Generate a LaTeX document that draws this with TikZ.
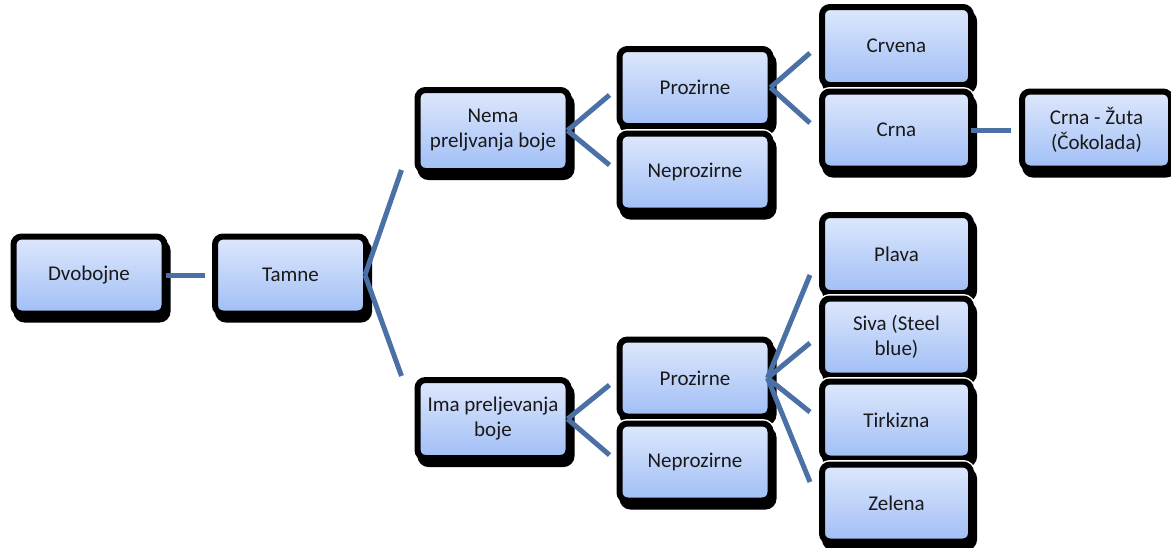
\documentclass[tikz,border=0pt]{standalone}
\usepackage{fontspec}
\setmainfont{Carlito}
\usetikzlibrary{shadows, positioning}

\definecolor{boxtop}{RGB}{222,232,252}
\definecolor{boxbottom}{RGB}{160,190,246}
\definecolor{linkblue}{RGB}{74,112,165}

\begin{document}
\begin{tikzpicture}
[x=1pt, y=1pt,
  every node/.style={draw=black, line width=6pt, rounded corners=8pt,
    top color=boxtop, bottom color=boxbottom, text=black!90,
    minimum width=151pt, minimum height=77pt, inner sep=0pt, align=center,
    font=\fontsize{21}{25}\selectfont,
    preaction={draw=white, line width=9pt},
    drop shadow={shadow xshift=3pt, shadow yshift=-6pt, fill=black,
      draw=black, line width=6pt, opacity=1}},
  link/.style={draw=linkblue, line width=5pt}]

\useasboundingbox (0,0) rectangle (1171,-547);

% first two levels
\node (dvobojne) at (89,-275) {Dvobojne};
\node (tamne) at (290.5,-275) {Tamne};
\node[minimum height=81pt] (nema) at (493,-130.5) {Nema\\preljvanja boje};
\node[minimum height=78pt] (ima) at (493,-419) {Ima preljevanja\\boje};

% prozirne / neprozirne
\node (proz1) at (695,-87.5) {Prozirne};
\node (neproz1) at (695,-172) {Neprozirne};
\node (proz2) at (695,-378) {Prozirne};
\node (neproz2) at (695,-462) {Neprozirne};

% colours
\node[minimum width=149pt, minimum height=78pt] (crvena) at (896.5,-46) {Crvena};
\node[minimum width=149pt] (crna) at (896.5,-130) {Crna};
\node[minimum width=149pt] (cokolada) at (1096.5,-130) {Crna - Žuta\\(Čokolada)};
\node[minimum width=149pt, minimum height=78pt] (plava) at (896.5,-254) {Plava};
\node[minimum width=149pt] (siva) at (896.5,-337) {Siva (Steel\\blue)};
\node[minimum width=149pt] (tirkizna) at (896.5,-420) {Tirkizna};
\node[minimum width=149pt] (zelena) at (896.5,-503) {Zelena};

% connectors
\draw[link] ([xshift=-2pt]dvobojne.east) -- ([xshift=-7pt]tamne.west);
\draw[link] ([xshift=-4pt]tamne.east) -- ([shift={(-13pt,-39.5pt)}]nema.west);
\draw[link] ([xshift=-4pt]tamne.east) -- ([shift={(-13pt,43pt)}]ima.west);

\draw[link] ([xshift=-4pt]nema.east) -- ([shift={(-7pt,-7.5pt)}]proz1.west);
\draw[link] ([xshift=-4pt]nema.east) -- ([shift={(-7pt,7pt)}]neproz1.west);
\draw[link] ([xshift=-4pt]ima.east) -- ([shift={(-7pt,-7pt)}]proz2.west);
\draw[link] ([xshift=-4pt]ima.east) -- ([shift={(-7pt,7pt)}]neproz2.west);

\draw[link] ([xshift=-3pt]proz1.east) -- ([shift={(-9pt,-7pt)}]crvena.west);
\draw[link] ([xshift=-3pt]proz1.east) -- ([shift={(-9pt,7pt)}]crna.west);
\draw[link] ([xshift=-3pt]crna.east) -- ([xshift=-8pt]cokolada.west);

\draw[link] ([xshift=-6pt]proz2.east) -- ([shift={(-9pt,-21pt)}]plava.west);
\draw[link] ([xshift=-6pt]proz2.east) -- ([shift={(-9pt,-6pt)}]siva.west);
\draw[link] ([xshift=-6pt]proz2.east) -- ([shift={(-9pt,8pt)}]tirkizna.west);
\draw[link] ([xshift=-6pt]proz2.east) -- ([shift={(-9pt,21pt)}]zelena.west);

\end{tikzpicture}
\end{document}
